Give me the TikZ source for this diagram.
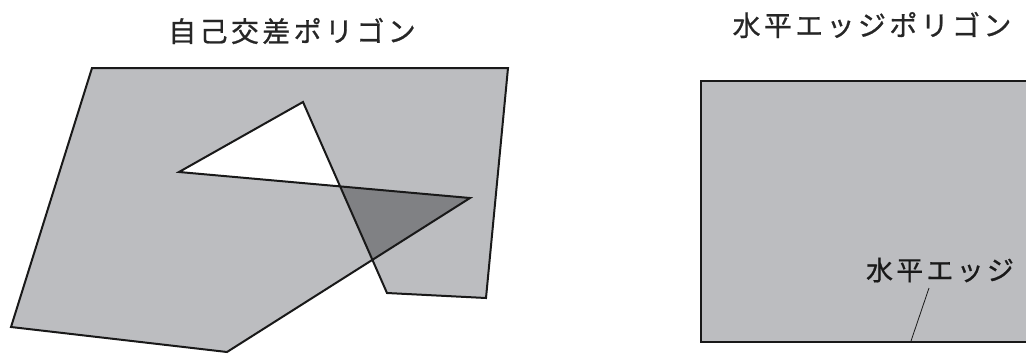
\documentclass[tikz,border=0pt]{standalone}
\usepackage{fontspec}
\newfontfamily\jp[LetterSpace=12,FakeBold=0.7]{Noto Sans CJK JP}
\definecolor{lightpoly}{RGB}{188,189,192}
\definecolor{darkpoly}{RGB}{128,129,132}
\begin{document}
\begin{tikzpicture}[x=1pt,y=-1pt,
  poly/.style={draw=black!90,line width=2pt,line join=miter},
  title/.style={font=\jp\fontsize{28}{30}\selectfont,text=black!85,inner sep=0pt},
  lbl/.style={font=\jp\fontsize{27}{29}\selectfont,text=black!90,inner sep=0pt}]
\useasboundingbox (0,0) rectangle (1026,354);
% left polygon vertices
\coordinate (p1) at (92,68);
\coordinate (p2) at (508,68);
\coordinate (p3) at (486,298);
\coordinate (p4) at (387,293);
\coordinate (p5) at (303,102);
\coordinate (p6) at (179,172);
\coordinate (p7) at (470,198);
\coordinate (p8) at (227,352);
\coordinate (p9) at (11,327);
\coordinate (ca) at (intersection of p4--p5 and p6--p7);
\coordinate (cb) at (intersection of p4--p5 and p7--p8);
\fill[lightpoly] (p1)--(p2)--(p3)--(p4)--(p5)--(p6)--(p7)--(p8)--(p9)--cycle;
\fill[darkpoly] (ca)--(p7)--(cb)--cycle;
\draw[poly] (p1)--(p2)--(p3)--(p4)--(p5)--(p6)--(p7)--(p8)--(p9)--cycle;
% right rectangle
\coordinate (r1) at (701,81);
\coordinate (r2) at (1040,342);
\filldraw[poly,fill=lightpoly] (r1) rectangle (r2);
% titles
\node[title] (t1) at (292,31) {自己交差ポリゴン};
\node[title] (t2) at (872,25) {水平エッジポリゴン};
% label with leader
\node[lbl] (hl) at (940,270) {水平エッジ};
\coordinate (hedge) at (911,341);
\draw[line width=0.8pt,black!90] (929,288) -- (hedge);
\end{tikzpicture}
\end{document}
